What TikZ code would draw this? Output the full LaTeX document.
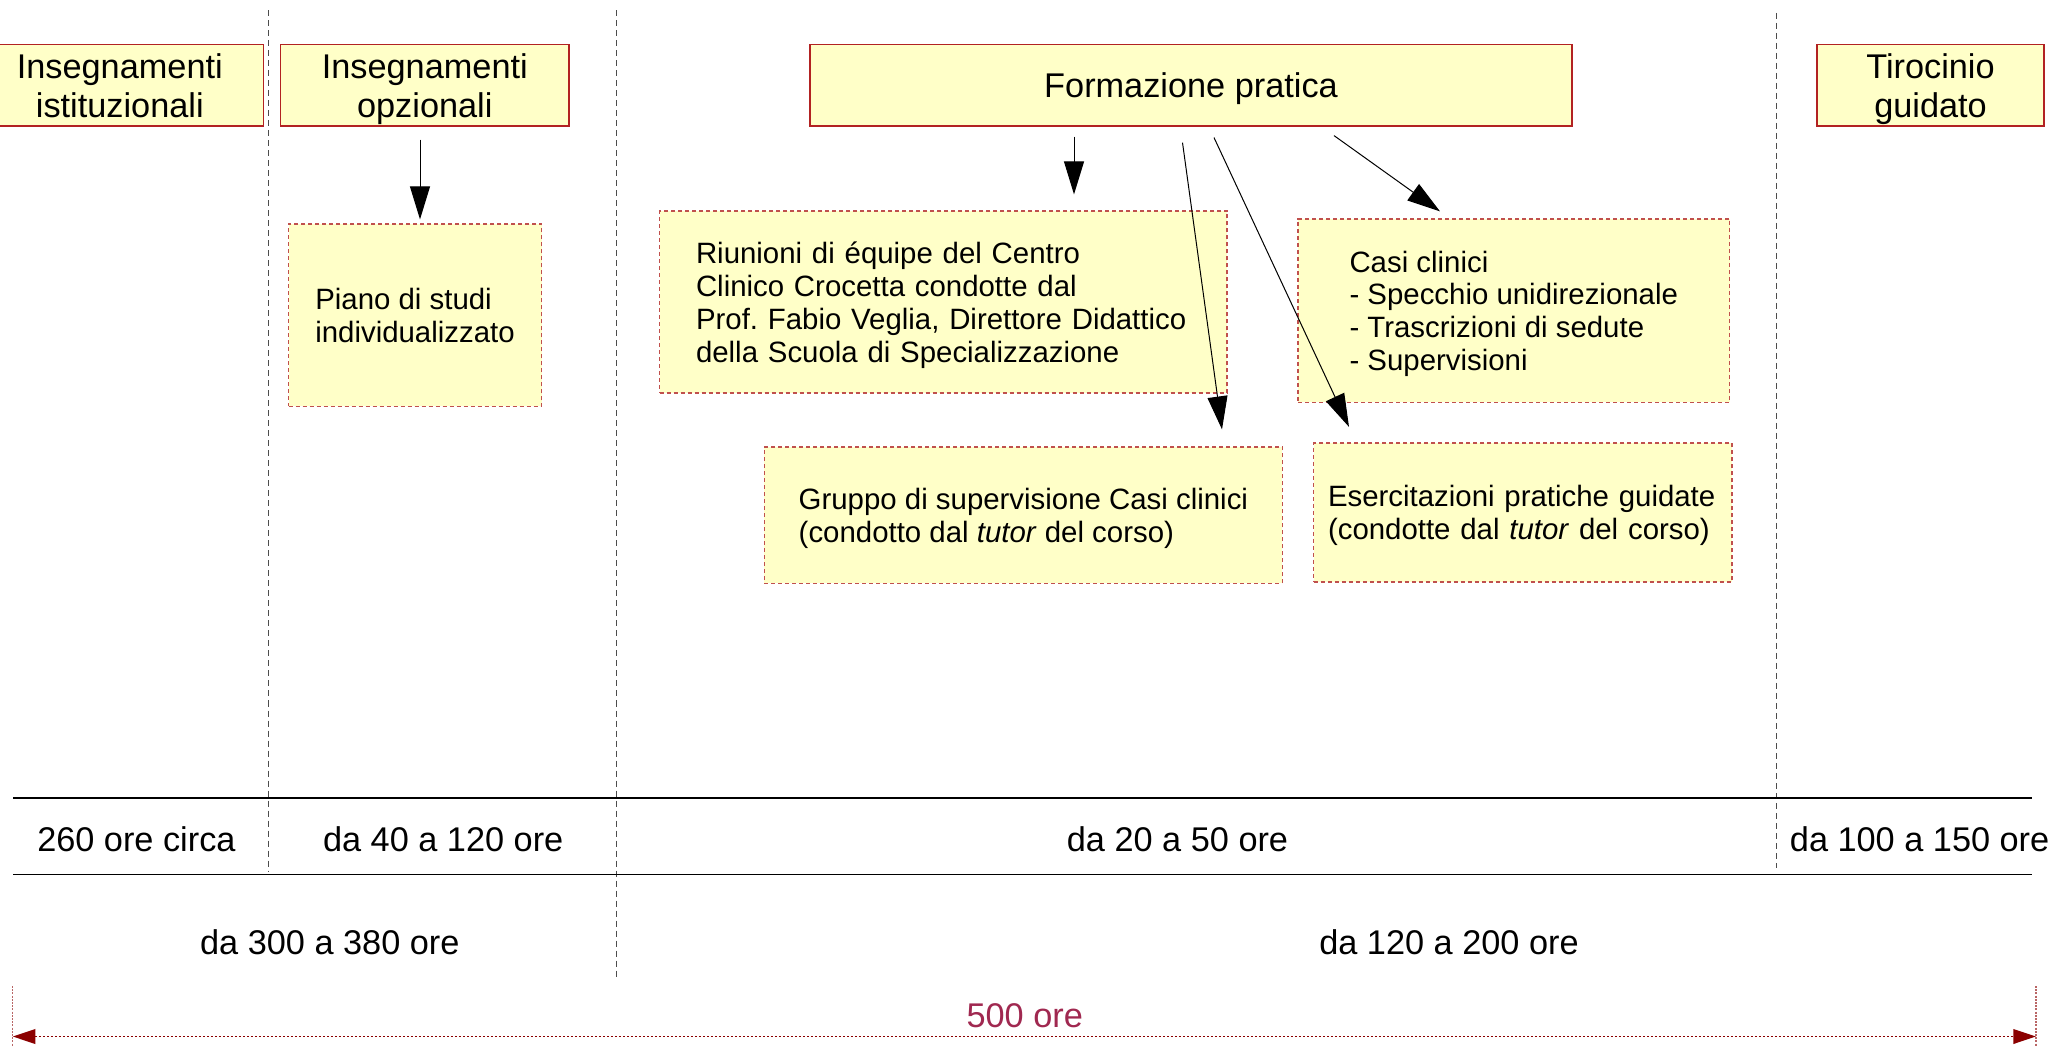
\documentclass[tikz,border=0pt]{standalone}
\usepackage{fontspec}
\setmainfont{Liberation Sans}
\usetikzlibrary{arrows.meta,calc}
\definecolor{boxfill}{RGB}{255,255,200}
\definecolor{boxline}{RGB}{178,34,34}
\definecolor{dashline}{RGB}{192,80,77}
\definecolor{dimred}{RGB}{139,0,0}
\definecolor{oretext}{RGB}{160,40,80}
\frenchspacing
\begin{document}
\begin{tikzpicture}[x=0.5pt,y=-0.5pt,
  head/.style={draw=boxline, line width=0.7pt, fill=boxfill, inner sep=0pt, align=center, text depth=0pt, font=\fontsize{17.15}{19.65}\selectfont},
  subbox/.style={draw=dashline, line width=0.6pt, dash pattern=on 2pt off 1.5pt, fill=boxfill, font=\fontsize{14.7}{16.4}\selectfont},
  sub/.style={subbox, text depth=0pt},
  lbl/.style={font=\fontsize{17.15}{19.65}\selectfont, anchor=base, inner sep=0pt},
  sepline/.style={draw=black!70, line width=0.5pt, dash pattern=on 3pt off 2pt},
  arr/.style={draw=black, line width=0.5pt, -{Triangle[length=16.5pt,width=10pt]}},
  hline/.style={draw=black, line width=0.75pt},
  tick/.style={draw=dimred!60, line width=0.7pt, dash pattern=on 1pt off 0.6pt},
  dimarr/.style={draw=dimred, line width=0.8pt, dash pattern=on 1.2pt off 0.8pt, {Triangle[length=11.3pt,width=7.3pt]}-{Triangle[length=11.3pt,width=7.3pt]}},
]
\useasboundingbox (0,0) rectangle (2056,1047);

% vertical dashed separators
\draw[sepline] (268.8,10.5) -- (268.8,872);
\draw[sepline] (616,10.5) -- (616,977);
\draw[sepline] (1776.7,13) -- (1776.7,868);

% header boxes
\node[head, minimum width=143.8pt, minimum height=40.65pt] (ii) at (119.8,85.25) {Insegnamenti\\istituzionali};
\node[head, minimum width=144.2pt, minimum height=40.65pt] (io) at (424.8,85.25) {Insegnamenti\\opzionali};
\node[head, minimum width=381pt, minimum height=40.65pt] (fp) at (1191,85.25) {Formazione pratica};
\node[head, minimum width=113.5pt, minimum height=40.65pt] (tg) at (1930.5,85.25) {Tirocinio\\guidato};

% sub boxes
\node[sub, align=left, inner sep=0pt, minimum width=126.5pt, minimum height=91.25pt] (pds) at (415,315.25) {Piano di studi\\individualizzato};
\node[subbox, align=left, inner xsep=18.25pt, inner ysep=0pt, text width=247.25pt, text depth=49.2pt, minimum height=91pt] (riu) at (943.25,302) {\mbox{Riunioni di équipe del Centro}\\\mbox{Clinico Crocetta condotte dal}\\\mbox{Prof. Fabio Veglia, Direttore Didattico}\\\mbox{della Scuola di Specializzazione}};
\node[sub, align=left, inner sep=0pt, minimum width=215.75pt, minimum height=91.75pt] (cc) at (1513.75,310.75) {Casi clinici\\- Specchio unidirezionale\\- Trascrizioni di sedute\\- Supervisioni};
\node[sub, align=left, inner sep=0pt, minimum width=259pt, minimum height=68.25pt] (gs) at (1023.4,515.25) {Gruppo di supervisione Casi clinici\\(condotto dal \textit{tutor} del corso)};
\node[subbox, align=left, inner xsep=7.1pt, inner ysep=0pt, text width=194.9pt, text depth=16.4pt, minimum height=69.5pt] (ep) at (1522.9,512.5) {\mbox{Esercitazioni pratiche guidate}\\\mbox{(condotte dal \textit{tutor} del corso)}};

% arrows
\draw[arr] ($(io.south)+(-4.8,13)$) -- ($(pds.north)+(5,-4)$);
\draw[arr] ($(fp.south)+(-117,10)$) -- ($(riu.north)+(130.75,-16)$);
\draw[arr] ($(fp.south)+(-8.5,16)$) -- ($(gs.north)+(198.6,-17)$);
\draw[arr] ($(fp.south)+(23,11)$) -- ($(ep.north)+(-173.9,-15.5)$);
\draw[arr] ($(fp.south)+(143,9)$) -- ($(cc.north)+(-73.75,-7)$);

% table lines
\draw[hline] (13,798) -- (2032,798);
\draw[hline] (13,874.5) -- (2032,874.5);

% hour labels
\node[lbl] (l1) at (136.4,851) {260 ore circa};
\node[lbl] (l2) at (443.2,851) {da 40 a 120 ore};
\node[lbl] (l3) at (1177.5,851) {da 20 a 50 ore};
\node[lbl] (l4) at (1919.6,851) {da 100 a 150 ore};
\node[lbl] (l5) at (329.8,954) {da 300 a 380 ore};
\node[lbl] (l6) at (1449,954) {da 120 a 200 ore};
\node[lbl, text=oretext] (tot) at (1024.7,1027) {500 ore};

% total dimension
\coordinate (dl) at (12.7,1036.5);
\coordinate (dr) at (2036,1036.5);
\draw[tick] (12.7,986) -- (12.7,1047);
\draw[tick] (2036,986) -- (2036,1047);
\draw[dimarr] (dl) -- (dr);
\end{tikzpicture}
\end{document}
